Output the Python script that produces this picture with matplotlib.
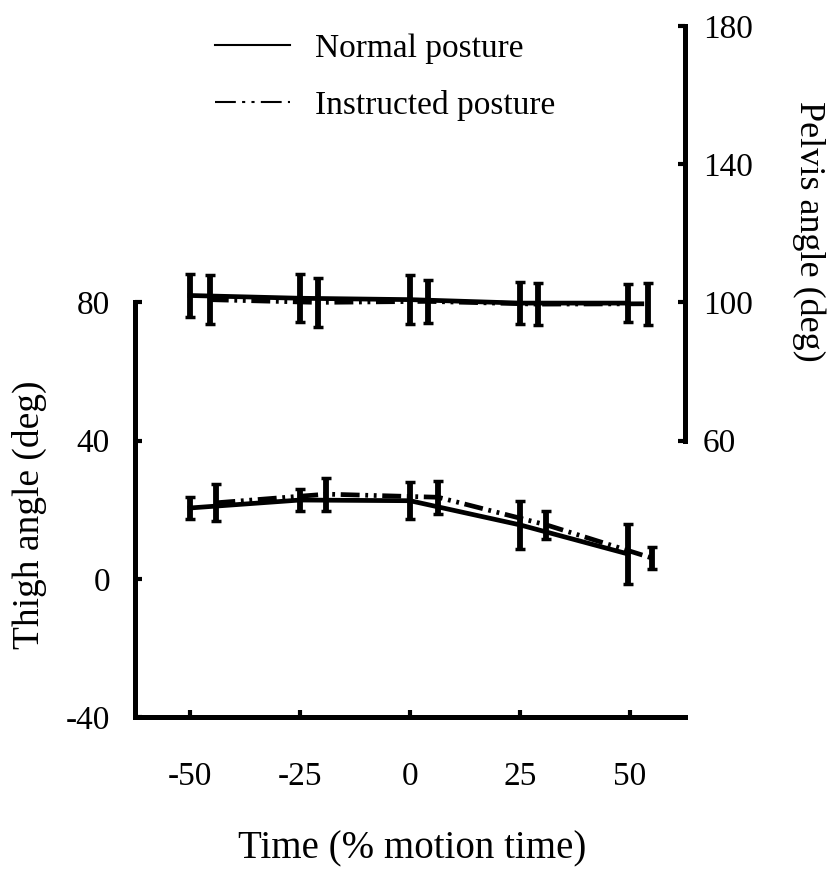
import matplotlib
matplotlib.use("Agg")
import matplotlib.pyplot as plt
from matplotlib.lines import Line2D

# ---- data ----
time_normal = [-50, -25, 0, 25, 49.5]
thigh_normal = [20.5, 22.8, 22.6, 15.6, 7.2]
thigh_normal_err = [3.2, 3.2, 5.3, 7.0, 8.6]

time_instr_thigh = [-44, -19, 6.4, 31, 55]
thigh_instr = [22.0, 24.5, 23.6, 15.6, 6.0]
thigh_instr_err = [5.3, 4.8, 4.8, 4.0, 3.2]

pelvis_normal = [102.0, 101.2, 100.8, 99.8, 99.8]
pelvis_normal_err = [6.2, 7.0, 7.0, 6.0, 5.5]

time_instr_pelvis = [-45.5, -21, 4, 29, 54]
pelvis_instr = [100.8, 100.0, 100.3, 99.5, 99.6]
pelvis_instr_err = [7.0, 7.0, 6.3, 6.0, 6.0]

x_ticks = [-50, -25, 0, 25, 50]
thigh_ticks = [-40, 0, 40, 80]
pelvis_ticks = [60, 100, 140, 180]
legend_labels = ["Normal posture", "Instructed posture"]

plt.rcParams['font.family'] = ['Liberation Serif', 'DejaVu Serif']

W, H = 830, 872
fig = plt.figure(figsize=(W / 100, H / 100), dpi=100)
left, right, bottom, top = 135, 685, 717, 26
ax = fig.add_axes([left / W, 1 - bottom / H, (right - left) / W, (bottom - top) / H])
ax.set_xlim(-62.5, 62.5)
ax.set_ylim(-40, 160)
ax2 = ax.twinx()
ax2.set_ylim(-20, 180)

spine_lw = 3.6
dash_instr = (0, (4, 1.2, 0.6, 1.2, 0.6, 1.2))

line_kw = dict(color='black', lw=3.4, elinewidth=4.2, capsize=3.5, capthick=2.5)
ax.errorbar(time_normal, thigh_normal, yerr=thigh_normal_err, ls='-', **line_kw)
eb = ax.errorbar(time_instr_thigh, thigh_instr, yerr=thigh_instr_err, **line_kw)
eb[0].set_linestyle(dash_instr)
ax2.errorbar(time_normal, pelvis_normal, yerr=pelvis_normal_err, ls='-', **line_kw)
eb2 = ax2.errorbar(time_instr_pelvis, pelvis_instr, yerr=pelvis_instr_err, **line_kw)
eb2[0].set_linestyle(dash_instr)

# spines
for a in (ax, ax2):
    a.spines['top'].set_visible(False)
ax.spines['right'].set_visible(False)
ax2.spines['left'].set_visible(False)
ax2.spines['bottom'].set_visible(False)
ax.spines['left'].set_linewidth(spine_lw)
ax.spines['bottom'].set_linewidth(spine_lw)
ax2.spines['right'].set_linewidth(spine_lw)
ax.spines['left'].set_bounds(-40, 80)
ax2.spines['right'].set_bounds(60, 180)
ax.spines['left'].set_capstyle('projecting')
ax.spines['bottom'].set_capstyle('projecting')

ax.set_xticks(x_ticks)
ax.set_xticklabels([str(v) for v in x_ticks])
ax.set_yticks(thigh_ticks)
ax.set_yticklabels([str(v) for v in thigh_ticks])
ax2.set_yticks(pelvis_ticks)
ax2.set_yticklabels([str(v) for v in pelvis_ticks])

ax.tick_params(axis='x', direction='in', length=5, width=3, pad=32, labelsize=24)
ax.tick_params(axis='y', direction='in', length=5, width=3, pad=18, labelsize=24)
ax2.tick_params(axis='y', direction='in', length=5, width=3, pad=13, labelsize=24)

ax.set_xlabel("Time (% motion time)", fontsize=28)
ax.xaxis.set_label_coords((412 - left) / (right - left), (bottom - 830) / (bottom - top))
ax.set_ylabel("Thigh angle (deg)", fontsize=27)
ax.yaxis.set_label_coords((47 - left) / (right - left), (bottom - 515) / (bottom - top))
ax2.set_ylabel("Pelvis angle (deg)", fontsize=26, rotation=270, va='center')
ax2.yaxis.set_label_coords((809 - left) / (right - left), (bottom - 231) / (bottom - top))

handles = [Line2D([], [], color='black', lw=1.5, ls='-'),
           Line2D([], [], color='black', lw=1.5, ls=(0, (10, 3, 1.5, 3, 1.5, 3)))]
fig.legend(handles, legend_labels, loc='upper left', bbox_to_anchor=(215 / W, 1 - 33 / H),
           bbox_transform=fig.transFigure, frameon=False, fontsize=24,
           handlelength=2.25, handletextpad=0.75, labelspacing=0.8,
           borderpad=0, borderaxespad=0)

fig.savefig("out.png", dpi=100, facecolor='white')
